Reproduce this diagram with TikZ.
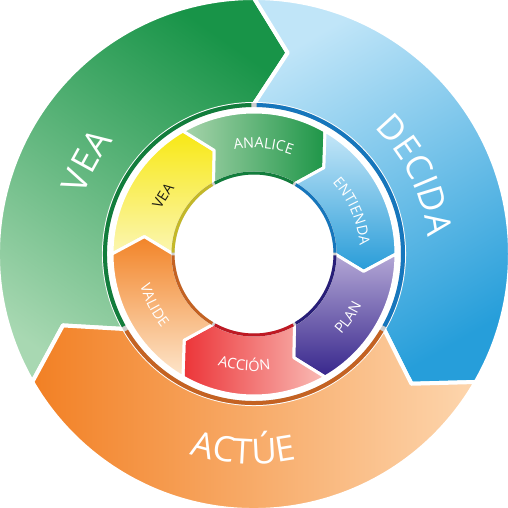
\documentclass[tikz,border=0pt]{standalone}
\usepackage{fontspec}
\setmainfont{Open Sans}
\usepackage{tikz}
\usetikzlibrary{decorations.text}

\definecolor{veadark}{RGB}{24,148,72}
\definecolor{vealight}{RGB}{168,216,178}
\definecolor{decidalight}{RGB}{192,229,248}
\definecolor{decidadark}{RGB}{38,158,218}
\definecolor{actueorange}{RGB}{242,128,36}
\definecolor{actuepeach}{RGB}{253,214,174}
\definecolor{yellowtop}{RGB}{248,232,20}
\definecolor{yellowbot}{RGB}{251,246,178}
\definecolor{analight}{RGB}{168,212,172}
\definecolor{anadark}{RGB}{30,150,72}
\definecolor{entlight}{RGB}{198,231,248}
\definecolor{entdark}{RGB}{40,156,216}
\definecolor{planlight}{RGB}{180,168,214}
\definecolor{plandark}{RGB}{55,38,140}
\definecolor{accred}{RGB}{236,52,56}
\definecolor{accpink}{RGB}{249,188,182}
\definecolor{valorange}{RGB}{242,132,40}
\definecolor{valpeach}{RGB}{253,230,204}
\definecolor{greenline}{RGB}{18,125,60}
\definecolor{blueline}{RGB}{22,118,188}
\definecolor{orangeline}{RGB}{196,98,34}
\definecolor{vealine}{RGB}{196,184,40}
\definecolor{navyline}{RGB}{40,30,120}
\definecolor{redline}{RGB}{190,25,35}
\definecolor{ringgray}{RGB}{205,205,205}
\definecolor{vealabel}{RGB}{30,30,20}

\newcommand{\ringbig}{\fontsize{35}{35}\selectfont}
\newcommand{\ringsmall}{\fontsize{14.5}{14.5}\selectfont}

\begin{document}
\begin{tikzpicture}[
    x=1pt, y=1pt,
    seg/.style={draw=white, line width=4pt, line join=round},
    cell/.style={draw=white, line width=3pt, line join=round},
    band/.style={line width=4pt},
    rim/.style={line width=3pt},
    vea/.style={top color=veadark, bottom color=vealight, shading angle=-35},
    decida/.style={top color=decidalight, bottom color=decidadark, shading angle=30},
    actue/.style={left color=actueorange, right color=actuepeach},
    veain/.style={top color=yellowtop, bottom color=yellowbot},
    analice/.style={left color=analight, right color=anadark},
    entienda/.style={top color=entlight, bottom color=entdark},
    plan/.style={top color=planlight, bottom color=plandark},
    accion/.style={left color=accred, right color=accpink},
    valide/.style={top color=valorange, bottom color=valpeach},
    outerlabel/.style={decorate, decoration={text along path, text align=center,
        text color=white, text={|\ringbig|#1}}},
    innerlabel/.style={decorate, decoration={text along path, text align=center,
        text color=white, text={|\ringsmall|#1}}}
]

\useasboundingbox (-254,-254) rectangle (254,254);
\fill[white] (-254,-254) rectangle (254,254);

\foreach \a/\s in {210/vea, 90/decida, -30/actue}
  \path[seg, \s] (\a:256) arc[start angle=\a, end angle=\a-120, radius=256]
    -- ({\a-129.5}:204) -- ({\a-120}:150)
    arc[start angle=\a-120, end angle=\a, radius=150]
    -- ({\a-9.5}:204) -- cycle;

\draw[band, ringgray] (0,0) circle[radius=149];
\foreach \a/\c in {209/greenline, 89/blueline, -31/orangeline}
  \draw[band, \c] (\a:149) arc[start angle=\a, end angle=\a-118, radius=149];

\foreach \a/\s in {180/veain, 120/analice, 60/entienda, 0/plan, -60/accion, -120/valide}
  \path[cell, \s] (\a:142) arc[start angle=\a, end angle=\a-60, radius=142]
    -- ({\a-69}:111) -- ({\a-60}:81)
    arc[start angle=\a-60, end angle=\a, radius=81]
    -- ({\a-9}:111) -- cycle;

\draw[rim, ringgray] (0,0) circle[radius=81];
\foreach \a/\c in {180/vealine, 120/greenline, 60/blueline, 0/navyline, -60/redline, -120/orangeline}
  \draw[rim, \c] (\a-1:81) arc[start angle=\a-1, end angle=\a-59, radius=81];

\path[outerlabel=VEA] (181:180) arc[start angle=181, end angle=121, radius=180];
\path[outerlabel=DECIDA] (61:174) arc[start angle=61, end angle=-9, radius=174];
\path[outerlabel=ACTÚE] (-128:210) arc[start angle=-128, end angle=-58, radius=210];

\path[innerlabel=VEA, decoration={text color=vealabel}] (177.5:103)
  arc[start angle=177.5, end angle=117.5, radius=103];
\path[innerlabel=ANALICE] (125:106) arc[start angle=125, end angle=45, radius=106];
\path[innerlabel=ENTIENDA] (68.5:106) arc[start angle=68.5, end angle=-21.5, radius=106];
\path[innerlabel=PLAN] (-64:119) arc[start angle=-64, end angle=-4, radius=119];
\path[innerlabel=ACCIÓN] (-130:117) arc[start angle=-130, end angle=-60, radius=117];
\path[innerlabel=VALIDE] (-188:118) arc[start angle=-188, end angle=-118, radius=118];

\end{tikzpicture}
\end{document}
